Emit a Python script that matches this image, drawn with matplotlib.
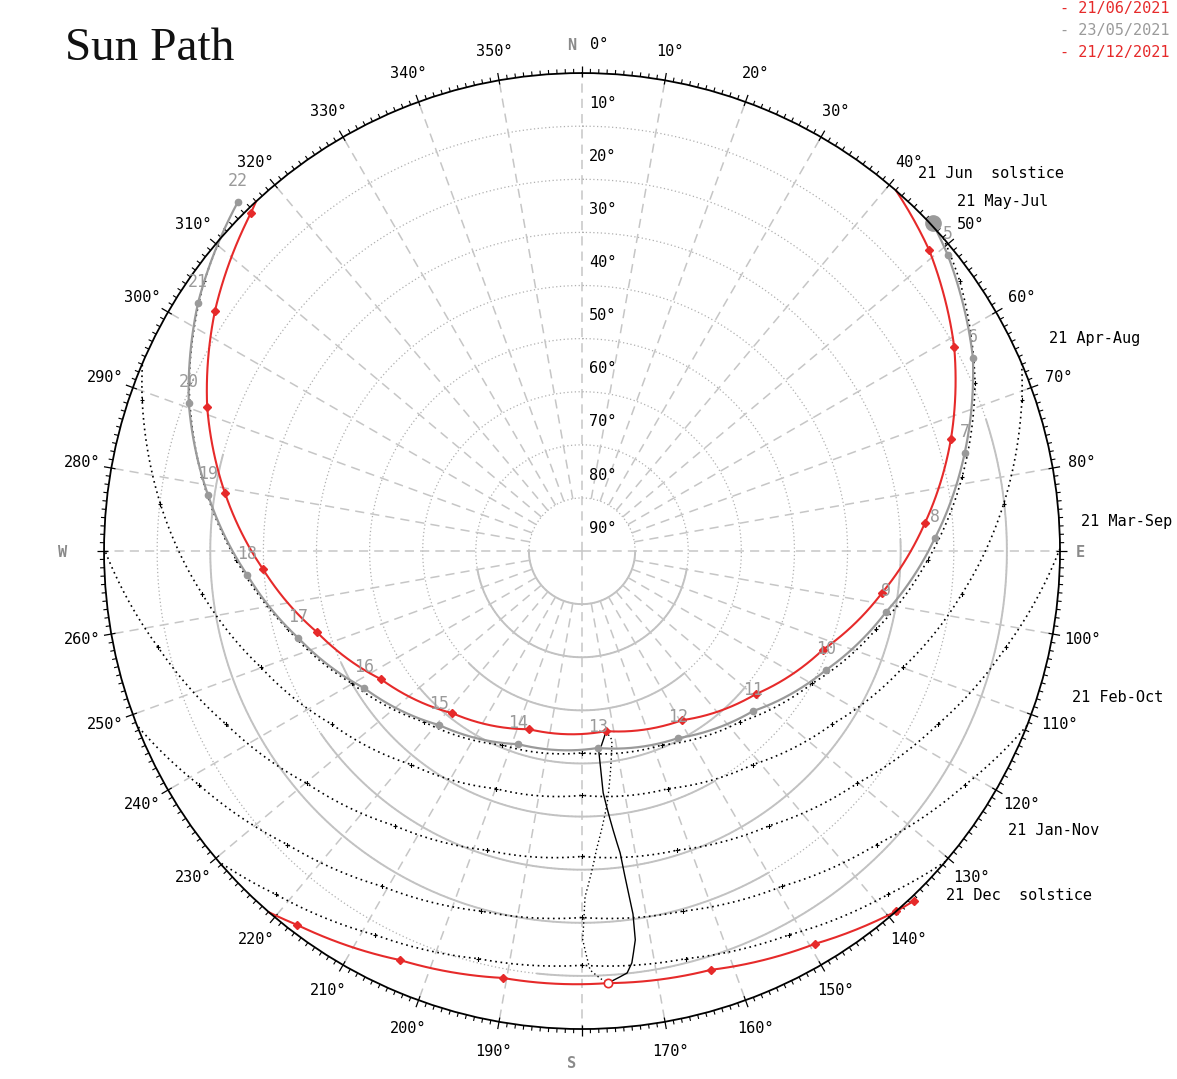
import numpy as np
import matplotlib.pyplot as plt

plt.rcParams['font.family'] = ['DejaVu Sans Mono']

# ---- values: azimuth (deg from N, clockwise), altitude (deg)
# 21/06/2021 (red), sunrise, 5h ... 22h, sunset
jun_az = [41.1, 49.1, 61.3, 73.1, 85.3, 98.0, 112.3, 129.4, 149.4, 172.4,
          196.6, 218.7, 237.5, 253.0, 266.8, 279.2, 291.0, 303.2, 315.6, 317.0]
jun_alt = [0.0, 3.5, 10.1, 17.4, 25.2, 33.0, 41.0, 47.6, 53.0, 55.8,
           55.0, 50.9, 45.1, 37.8, 29.8, 21.9, 14.4, 7.4, 0.9, 0.0]

# 21/12/2021 (red)
dec_az = [136.5, 138.9, 149.3, 162.9, 176.6, 190.5, 204.0, 217.3, 220.9]
dec_alt = [-0.8, 0.0, 4.0, 7.5, 8.5, 8.25, 5.7, 1.5, 0.0]

# 23/05/2021 (grey), hourly
may_hours = list(range(5, 23))
may_az = [51.0, 63.7, 75.6, 87.9, 101.3, 116.0, 133.1, 152.8, 175.4, 198.3,
          219.4, 237.9, 253.0, 265.9, 278.5, 290.6, 302.9, 315.4]
may_alt = [1.4, 7.9, 15.6, 23.5, 31.6, 38.9, 45.9, 50.4, 52.8, 51.7,
           47.6, 41.5, 34.1, 26.8, 18.8, 10.9, 3.9, -2.3]
may_rise = (46.9, -0.4)

# 21st of the month paths (black dotted)
mayjul_az = [49.1, 54.5, 66.8, 79.0, 91.5, 104.9, 119.9, 137.3, 157.6, 180.0,
             202.4, 222.7, 240.1, 255.1, 268.5, 281.0, 293.2, 305.5, 310.9]
mayjul_alt = [0.0, 2.6, 9.5, 17.1, 24.9, 32.7, 40.0, 46.2, 50.5, 52.0,
              50.5, 46.2, 40.0, 32.7, 24.9, 17.1, 9.5, 2.6, 0.0]
apraug_az = [66.9, 71.0, 83.6, 96.4, 109.9, 124.7, 141.3, 160.0, 180.0,
             200.0, 218.7, 235.3, 250.1, 263.6, 276.4, 289.0, 293.1]
apraug_alt = [0.0, 2.4, 10.1, 18.0, 25.7, 32.7, 38.5, 42.4, 44.0,
              42.4, 38.5, 32.7, 25.7, 18.0, 10.1, 2.4, 0.0]
marsep_az = [89.7, 102.7, 116.0, 130.2, 145.7, 162.4, 180.0, 197.6, 214.3,
             229.8, 244.0, 257.3, 270.3]
marsep_alt = [0.0, 8.1, 15.5, 22.2, 27.4, 30.9, 32.5, 30.9, 27.4,
              22.2, 15.5, 8.1, 0.0]
febokt_az = [111.4, 121.4, 134.9, 149.2, 164.4, 180.0, 195.6, 210.8, 225.1,
             238.6, 248.6]
febokt_alt = [0.0, 5.5, 11.7, 16.5, 19.6, 21.0, 19.6, 16.5, 11.7, 5.5, 0.0]
jannov_az = [130.5, 138.3, 151.7, 165.7, 180.0, 194.3, 208.3, 221.7, 229.5]
jannov_alt = [0.0, 3.4, 7.9, 10.8, 12.0, 10.8, 7.9, 3.4, 0.0]

# analemma at 13h
ana1_az = [172.4, 175.2, 175.0, 172.8, 172.0, 172.2, 173.1, 173.9, 176.6]
ana1_alt = [55.8, 52.0, 44.3, 32.7, 21.2, 16.1, 11.9, 10.1, 8.5]
ana2_az = [172.4, 171.0, 174.3, 177.1, 179.5, 179.9, 178.9, 177.6, 176.6]
ana2_alt = [55.8, 54.0, 42.3, 34.2, 24.9, 16.8, 11.1, 9.5, 8.5]

# altitude circles: part drawn as solid grey arc (azimuth from, to)
ring_alt = [80, 70, 60, 50, 40, 30, 20, 10]
ring_solid = [(90, 270), (100, 260), (140, 225), (130, 230), (150, 245),
              (88, 235), (150, 285), (72, 186)]

month_labels = ['21 Jun  solstice', '21 May-Jul', '21 Apr-Aug', '21 Mar-Sep',
                '21 Feb-Oct', '21 Jan-Nov', '21 Dec  solstice']
month_label_az = [41.7, 47.0, 65.5, 86.6, 106.6, 123.3, 133.4]
month_label_r = [95.1, 96.6, 96.6, 94.1, 96.3, 96.0, 94.3]

legend_txt = ['- 21/06/2021', '- 23/05/2021', '- 21/12/2021']

RED = '#e62a2a'
GREY = '#9a9a9a'


def pol(az, alt):
    return np.radians(az), 90 - np.asarray(alt, dtype=float)


def curve(az, alt, steps=24, **kw):
    t, r = pol(az, alt)
    ln, = ax.plot(t, r, clip_on=False, **kw)
    ln.get_path()._interpolation_steps = steps
    return ln


fig = plt.figure(figsize=(11.77, 10.79), dpi=100)
ax = fig.add_axes([0.0884, 0.0463, 0.8122, 0.8860], projection='polar')
ax.set_theta_zero_location('N')
ax.set_theta_direction(-1)
ax.set_rlim(0, 90)
ax.set_xticks([])
ax.set_yticks([])
ax.grid(False)
ax.spines['polar'].set_color('black')
ax.spines['polar'].set_linewidth(1.3)

# altitude circles, dotted with a solid stretch on the south side
for a, (s0, s1) in zip(ring_alt, ring_solid):
    th = np.radians(np.arange(0, 361, 0.5))
    ax.plot(th, np.full_like(th, 90 - a), color='#b0b0b0', lw=0.9,
            ls=(0, (1, 2)))
    th = np.radians(np.arange(s0, s1 + 0.1, 0.5))
    ax.plot(th, np.full_like(th, 90 - a), color='#c2c2c2', lw=1.4)
# azimuth dashed lines
for a in range(0, 360, 10):
    r0 = 0 if a % 90 == 0 else 10
    ax.plot([np.radians(a)] * 2, [r0, 90], color='#c6c6c6', lw=1.1,
            ls=(0, (6, 4)))

# outer ticks
deg = np.arange(360)
big = deg % 10 == 0
ax.vlines(np.radians(deg[~big]), 90, 90.8, color='black', lw=0.8,
          clip_on=False)
ax.vlines(np.radians(deg[big]), 89.2, 91.4, color='black', lw=0.9,
          clip_on=False)

# azimuth labels
for a in range(10, 360, 10):
    if a in (90, 180, 270):
        continue
    ax.text(np.radians(a), 95.6, f'{a}°', ha='center', va='center',
            fontsize=11, clip_on=False)
ax.annotate('0°', (0, 95.3), xytext=(12, 0), textcoords='offset points',
            ha='center', va='center', fontsize=11, annotation_clip=False)
for lab, a, r in [('N', -1.2, 95.3), ('E', 90.2, 93.8), ('S', 181.2, 96.6),
                  ('W', 269.8, 97.9)]:
    ax.text(np.radians(a), r, lab, ha='center', va='center', fontsize=11,
            color='#8a8a8a', fontweight='bold', clip_on=False)

# altitude labels
for a in range(10, 100, 10):
    ax.annotate(f'{a}°', (0, 90 - a), xytext=(15, 16.5),
                textcoords='offset points', ha='center', va='center',
                fontsize=11)

# monthly paths
for az, alt in [(mayjul_az, mayjul_alt), (apraug_az, apraug_alt),
                (marsep_az, marsep_alt), (febokt_az, febokt_alt),
                (jannov_az, jannov_alt)]:
    curve(az, alt, color='black', lw=1.2, ls=(0, (1, 2.2)))
    t, r = pol(az[1:-1], alt[1:-1])
    ax.plot(t, r, ls='none', marker='+', ms=3.5, mew=0.8, color='black')

# analemma
curve(ana1_az, ana1_alt, color='black', lw=1.0)
curve(ana2_az, ana2_alt, color='black', lw=1.0, ls=(0, (1, 2)))

# grey path
g_az = [may_rise[0]] + may_az
g_alt = [may_rise[1]] + may_alt
curve(g_az, g_alt, color=GREY, lw=1.6)
t, r = pol(may_az, may_alt)
ax.plot(t, r, ls='none', marker='o', ms=4.5, color=GREY, clip_on=False)
t, r = pol(*may_rise)
ax.plot(t, r, ls='none', marker='o', ms=11, color=GREY, clip_on=False)
for h, a, al in zip(may_hours, may_az, may_alt):
    ax.annotate(str(h), pol(a, al), xytext=(0, 15), textcoords='offset points',
                ha='center', va='center', fontsize=12, color=GREY,
                annotation_clip=False)

# red paths
curve(jun_az, jun_alt, color=RED, lw=1.5)
t, r = pol(jun_az[1:-1], jun_alt[1:-1])
ax.plot(t, r, ls='none', marker='D', ms=4, color=RED)
curve(dec_az, dec_alt, color=RED, lw=1.5)
t, r = pol(dec_az[:-1], dec_alt[:-1])
ax.plot(t, r, ls='none', marker='D', ms=4, color=RED, clip_on=False)
t, r = pol(dec_az[4], dec_alt[4])
ax.plot(t, r, ls='none', marker='o', ms=6, mfc='white', mec=RED, mew=1.2)

# month labels
for lab, a, r in zip(month_labels, month_label_az, month_label_r):
    ax.text(np.radians(a), r, lab, ha='left', va='center', fontsize=11,
            clip_on=False)

# title and legend
fig.text(65 / 1177, 1 - 60 / 1079, 'Sun Path', family='Liberation Serif',
         fontsize=34, va='baseline', ha='left', color='#111111')
for i, (txt, c) in enumerate(zip(legend_txt, [RED, GREY, RED])):
    fig.text(1170 / 1177, 1 - (9 + 22 * i) / 1079, txt, ha='right',
             va='center', fontsize=11, color=c)

fig.savefig('out.png', dpi=100)
